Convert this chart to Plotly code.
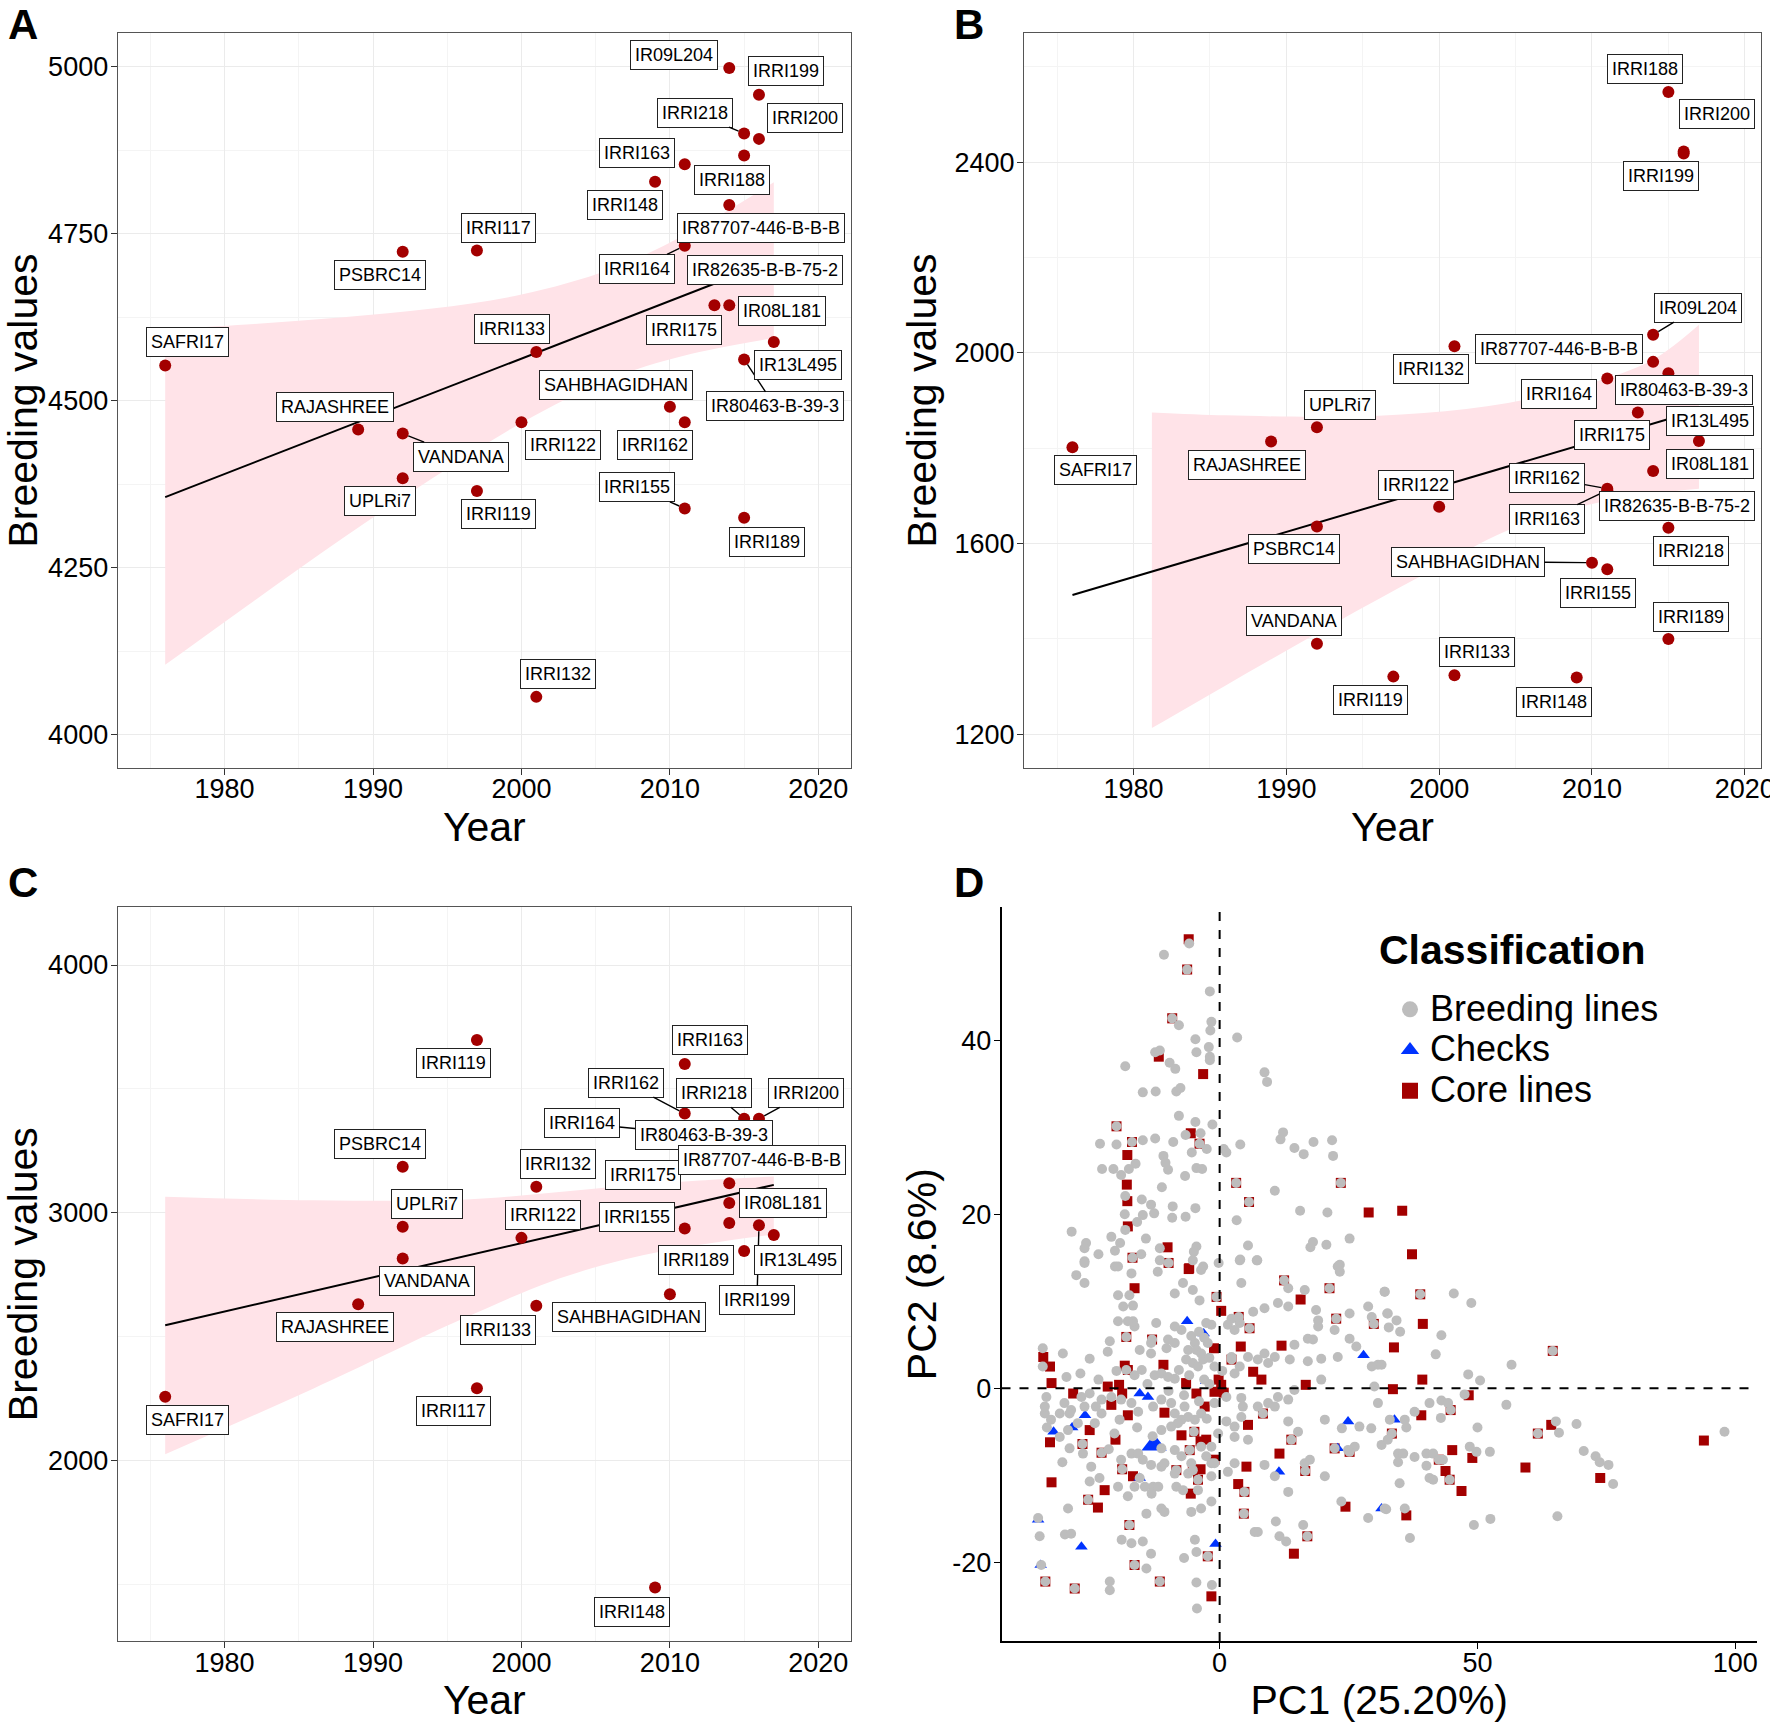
import plotly.graph_objects as go

FONT = "Liberation Sans, Arial, Helvetica, sans-serif"

# ---------------- data: panels A-C (breeding values vs release year) ----------------
varieties = ["SAFRI17", "RAJASHREE", "PSBRC14", "VANDANA", "UPLRi7", "IRRI117", "IRRI119",
             "IRRI122", "IRRI132", "IRRI133", "IRRI148", "SAHBHAGIDHAN", "IRRI155", "IRRI162",
             "IRRI163", "IRRI164", "IRRI175", "IR09L204", "IR87707-446-B-B-B", "IR08L181",
             "IRRI188", "IRRI189", "IRRI218", "IR80463-B-39-3", "IR82635-B-B-75-2",
             "IRRI199", "IRRI200", "IR13L495"]
release_year = [1976, 1989, 1992, 1992, 1992, 1997, 1997,
                2000, 2001, 2001, 2009, 2010, 2011, 2011,
                2011, 2011, 2013, 2014, 2014, 2014,
                2015, 2015, 2015, 2015, 2015,
                2016, 2016, 2017]
bv_A = [4553, 4457, 4723, 4451, 4384, 4725, 4365,
        4468, 4057, 4573, 4828, 4491, 4339, 4468,
        4854, 4732, 4643, 4998, 4793, 4643,
        4867, 4325, 4900, 4562, 4697,
        4958, 4892, 4588]
bv_B = [1802, 1814, 1636, 1390, 1844, None, 1321,
        1677, 2014, 1324, 1319, 1560, 1546, 1715,
        1712, 1946, 1875, 2038, 1981, 1752,
        2547, 1400, 1633, 1957, 1680,
        2418, 2422, 1815]
bv_C = [2256, 2630, 3185, 2815, 2943, 2291, 3697,
        2898, 3104, 2624, 1486, 2670, 2936, 3400,
        3600, 3320, 3210, 2958, 3119, 3039,
        None, 2845, 3379, 3310, None,
        2949, 3379, 2910]

fit_years = [1976, 2017]
fit_A = [4356, 4710]
fit_B = [1492, 1880]
fit_C = [2545, 3112]

band_years_A = [1976, 1982, 1988, 1994, 2000, 2006, 2011, 2017]
band_lo_A = [4105, 4201, 4295, 4384, 4467, 4533, 4568, 4594]
band_hi_A = [4607, 4615, 4625, 4638, 4659, 4697, 4748, 4827]
band_years_B = [1981.2, 1986, 1993, 1999, 2004.5, 2010, 2014, 2017]
band_lo_B = [1213, 1302, 1430, 1535, 1628, 1683, 1705, 1715]
band_hi_B = [1875, 1869, 1866, 1874, 1895, 1937, 1986, 2059]
band_years_C = [1976, 1986, 1996, 2002, 2007, 2012, 2017]
band_lo_C = [2024, 2290, 2570, 2722, 2812, 2870, 2912]
band_hi_C = [3064, 3050, 3052, 3080, 3108, 3130, 3146]

year_ticks = [1980, 1990, 2000, 2010, 2020]
pc1_ticks = [0, 50, 100]
pc2_ticks = [-20, 0, 20, 40]
pc2_tick_text = ["-20", "0", "20", "40"]

# ---------------- data: panel D (PCA) ----------------
breeding_pc1 = [
    -5.9, -10.8, -6.3, -1.9, -9.2, -7.9, -1.6, -1.8, 3.4, -4.7, -2.1, -4.5, -1.9, -12.5, -11.6, -1.9, -9.7, -8.6,
    -18.3, 8.7, 9.2, -14.9, -12.4, -8.4, -7.6, -7.9, -4.7, -1.4, -3.7, -6.6, -23.2, -20.0, -14.9, -12.5, -9.0, -5.4,
    -2.5, 0.8, 1.3, 4.0, 12.3, 11.8, 14.5, 16.3, 18.2, 21.8, 22.0, -10.9, -10.5, -16.3, -22.8, -20.6, -19.1, -17.6,
    -10.0, -4.5, -3.4, -6.7, -11.2, -18.3, -15.1, -13.3, -12.7, -9.1, -4.7, -9.2, -6.6, -18.4, -14.9, -16.0, 3.3,
    10.7, 15.6, 20.9, -28.7, -21.0, -18.3, -25.9, -26.2, -19.3, -14.3, -20.3, -23.5, -15.2, -11.6, -4.5, -5.0, 5.5,
    18.1, 20.7, 25.2, 17.6, -26.2, -20.3, -11.6, -5.2, -0.2, 4.0, 7.3, 23.3, -3.2,
    -20.0, -17.0, -3.9, 3.2, 5.7, 23.5, -16.9, -9.9,
    -26.2, -27.8, -26.2, -19.7, -17.1, -17.5, -16.8, -19.7, -18.7, -12.0, -7.1, -5.2, -8.7, -3.9, -3.6, 4.2, 7.2,
    3.9, 13.3, 16.5, 11.3, 13.3, 8.7, 6.5, 2.3, 3.9, 1.6, 2.9, 22.9, 23.3, 25.2, 28.8, 29.5, 32.5, 32.0, 18.7, 19.1,
    19.1, 17.1, 18.1, 22.3, 25.2, 26.5, 29.5, 30.7, 30.0, 22.9, 19.7, 19.7, 17.1, 14.5, 13.6, 10.7, 9.4, 8.7, 7.4,
    5.5, 3.9, 2.9, 2.3, 14.5, 11.3, 9.4, 13.3, 10.7, 7.4, 4.5, 4.2, 2.9, 1.3, 5.5, 2.9, 2.9, 1.6, 8.7, 10.7, 13.3,
    16.5, 17.5, 20.4, 15.2, 13.3, 20.4, 23.7, 27.1, 29.4, 30.7, 26.2, 31.4, 32.6, 24.9, 23.6, 28.8, 32.0, 16.2,
    10.9, 6.8, 7.4, 11.6, 12.9, -4.8, -4.5, -6.9, -14.2, -13.3, -14.9, -17.1, -19.0, -21.3, -21.3, -4.5, -1.5,
    -4.4, -29.4, -34.9, -30.0, -28.8, -35.2, -34.6, -33.8, -28.1, -16.5, -11.6, -2.3, -17.5, -14.2, -11.3, -10.7,
    -5.5, -3.6, -1.6, -4.2, -4.2, -8.4, -7.1, -8.7, -6.1, -11.3, -12.9, -14.5, -13.2, -11.9, -16.5, -17.8, -19.7,
    -23.3, -25.2, -24.9, -19.1, -17.1, -15.8, -20.4, -19.4, -22.9, -24.2, -26.5, -29.1, -31.0, -32.7, -33.9, -33.9,
    -33.6, -30.1, -31.0, -28.8, -26.2, -26.8, -25.2, -22.9, -24.0, -34.3, -34.3, -29.7, -27.0, -30.4, -25.2, -21.7,
    -21.3, -18.1, -16.5, -15.1, -12.6, -11.3, -10.0, -8.7, -7.9, -13.3, -10.3, -10.0, -8.7, -6.1, -4.8, -4.5, -3.6,
    -6.5, -5.2, -4.2, -3.2, -2.3, -1.6, -2.6, -7.4, -8.7, -13.3, -15.5, -16.5, -16.8, -12.3, -17.8, -19.7, -7.4,
    -6.8, -8.7, -6.1, -4.8, -3.6, -8.1, -9.4, -8.7, -7.4, -3.6, -2.6, -1.6, -5.5, -1.0, -10.7, -13.3, -14.9, -11.3,
    -11.3, -12.9, -15.8, -17.1, -19.1, -21.0, -11.3, -9.4, -27.5, -29.4, -29.1, -1.6, -1.6, -0.3, -1.0, 1.3, 4.2,
    -0.6, 3.7, 5.8, 22.6, 29.9, 12.5, 21.3, -18.1, -13.1, 2.3, 8.4, 13.9, 22.3, 25.2, -26.6, -22.9, -18.9, -8.4,
    -5.2, 4.8, -25.5, 16.6, 4.7, 17.0, -5.8, -15.5,
    -5.5, -4.0, -3.0, -2.0, -1.0, -5.9, -3.0, -2.0, 0.5, -6.9, -4.0, -2.5, -5.0, -9.9, -14.0, -20.0, -23.5, -16.0,
    -13.0, -21.5, -30.5, -33.5,
    32.0, 45.4, 48.8, 32.6, 34.3, 32.8, 35.0, 43.0, 41.9, 56.6, 48.2, 50.5, 47.5, 55.6, 40.7, 43.0, 44.3, 37.8,
    42.9, 50.0, 65.2, 65.8, 69.2, 97.9, 35.9, 36.2, 33.0, 34.6, 35.6, 37.8, 40.1, 41.4, 43.3, 48.5, 49.8, 52.4,
    34.6, 40.1, 70.6, 72.9, 73.7, 75.4, 76.3, 34.9, 40.7, 41.4, 32.3, 35.9, 49.3, 52.5, 65.5, 36.9, 31.4, 38.9,
    64.6, 61.7, 44.8, 33.4, 42.5, 44.6]
breeding_pc2 = [
    51.1, 49.8, 48.1, 45.6, 42.5, 41.7, 42.1, 41.1, 40.3, 40.1, 39.2, 38.6, 38.1, 38.6, 38.8, 37.7, 37.4, 36.7,
    37.0, 36.3, 35.2, 34.0, 34.1, 34.1, 34.5, 31.3, 30.6, 30.3, 29.3, 29.1, 28.1, 28.0, 28.5, 28.7, 28.3, 27.1,
    27.5, 27.5, 27.1, 28.0, 29.4, 28.6, 27.6, 26.9, 28.3, 28.5, 26.7, 26.7, 25.9, 25.8, 25.2, 25.2, 24.5, 25.2,
    25.1, 25.3, 25.2, 24.4, 23.1, 22.1, 21.7, 21.1, 20.1, 20.9, 20.7, 19.6, 19.7, 20.0, 19.9, 19.1, 19.3,
    22.7, 20.4, 20.2, 18.0, 17.4, 18.2, 16.7, 16.1, 16.7, 17.2, 15.8, 15.4, 15.4, 16.1, 16.3, 15.7, 16.4,
    16.8, 16.5, 17.2, 16.2, 14.6, 14.0, 14.7, 14.7, 14.4, 14.8, 14.7, 14.2, 14.0,
    30.1, 28.3, 28.1, 23.6, 21.4, 23.6, 15.0, 14.4,
    14.4, 13.0, 12.1, 14.0, 13.2, 10.7, 9.5, 10.7, 9.4, 13.4, 12.1, 11.3, 10.9, 10.1, 13.6, 12.1, 14.7,
    14.7, 11.5, 11.3, 9.8, 9.4, 9.2, 8.8, 8.0, 7.5, 7.3, 6.7, 14.0, 13.4, 8.6, 9.4, 8.2, 8.6, 11.1, 9.0, 7.8,
    7.1, 5.7, 5.6, 6.7, 5.7, 4.8, 2.5, 2.7, 0.2, 3.6, 3.4, 1.0, 3.1, 5.0, 3.3, 3.6, 2.9, 4.0, 3.3,
    3.6, 2.5, 1.7, 3.6, -0.2, -1.0, -1.7, -1.3, -2.1, -2.1, -2.1, -3.3, -4.4, -3.8, -5.9, -5.6, -8.6, -9.6, -8.8, -10.1, -11.9,
    -8.6, -8.2, -10.1, -5.0, -3.8, -3.6, -4.6, -4.4, -4.6, -1.7, -6.7, -6.5, -5.9, -7.1, -13.0, -14.9, -13.8, -15.7,
    -15.3, -16.5, -16.5, -17.0, -17.6, -17.4, -18.8, -19.5, -20.7, -19.0, -17.6, -17.8, -17.4, -22.2, -23.2, -22.3, -22.6,
    -25.3, -13.8, -17.0, -16.8, -16.7, -14.9, -20.3, -22.2, -23.0, -20.3, -22.2, -19.3, -15.7, -14.4, -13.8, -14.2,
    -14.2, -13.8, -13.0, -10.5, -11.7, -11.3, -11.7, -9.8, -9.8, -9.0, -11.3, -11.3, -12.1, -11.3, -11.3, -12.4, -11.3,
    -10.3, -10.7, -9.0, -8.2, -7.5, -7.5, -5.2, -3.6, -2.9, -4.0, -7.5, -6.9, -5.6, -3.6, -2.9, -2.1,
    -1.0, -1.7, -2.9, -2.5, -2.1, -1.0, -0.6, -1.3, -2.1, 2.5, 4.6, 1.3, 1.7, 4.0, 3.4, 4.2,
    5.4, 2.1, 1.5, 2.1, 1.5, 1.7, 1.3, 1.1, 2.1, 4.0, 4.6, 5.6, 5.2, 4.4, 5.2, 4.4, 4.0,
    3.3, 2.9, 2.5, 3.3, 5.2, 7.3, 7.5, 6.7, 7.1, 5.2, 4.4, 7.1, 7.7, 7.5, 7.7, 7.7, -3.6,
    -2.1, -2.9, -3.3, -3.6, -2.9, -4.0, -4.4, -7.1, -7.8, -6.7, -7.8, -8.6, -8.6, -8.6, -8.6, -8.8, -8.2, -6.9,
    -4.8, -2.1, -2.7, -1.7, -1.3, -1.0, -1.3, -1.7, -4.0, -4.8, -2.9, -10.1, -6.7, -5.2, -1.7, -1.0, -1.1,
    10.5, 8.2, 6.9, 8.0, 7.4, 12.4, 11.5, 5.9, 5.6, 3.3, -2.9, -5.9, -6.9, -7.3, -6.4, -7.4, -9.3, -9.4,
    -9.4, -11.9, -12.8, -9.5, -14.4, -17.0, -7.1, -10.3,
    6.0, 6.5, 5.8, 3.5, 2.5, 1.5, 1.0, 0.5, 2.0, -0.8, -1.5, -3.5, -5.0, -0.3, 0.5, 2.0, 1.0, -4.5,
    -5.5, -7.0, -8.5, -4.5,
    11.1, 10.9, 9.8, 8.6, 7.8, 7.0, 6.5, 6.1, 3.9, 2.7, 1.6, 0.9, -0.7, -1.9, -1.7, -1.4, -1.7, -2.7,
    -3.4, -4.5, -3.8, -5.1, -4.1, -5.0, -3.6, -4.5, -3.6, -7.5, -7.5, -7.9, -7.5, -7.5, -8.2, -6.7, -7.3, -7.3,
    -8.5, -8.9, -7.2, -7.8, -8.5, -8.8, -11.0, -10.9, -10.3, -10.5, -13.9, -13.8, -15.7, -15.0, -14.7, -17.2, 2.7, 10.8,
    4.3, -5.2, -2.5, -5.2, -8.2, -10.5]

core_pc1 = [
    -6.0, -11.8, -3.2, -17.9, -18.0, -17.9, -17.8, -5.6, -10.1, 28.9, -5.9,
    -6.3, -9.2, -20.0, -17.0, -3.9, 3.2, 5.7, 23.5, -16.9, -9.9,
    -6.0, -16.5, 0.3, 15.7, 4.1, -1.1, 12.0, -34.2, -32.9, -32.6, -28.4, -18.4, -17.8, -10.9, -19.5, -18.9,
    -21.7, -21.0, -17.8, -10.7, -4.5, -2.9, -6.5, 0.3, -1.0, -0.2, 0.8, 6.5, 8.1, 16.7, 5.5, -25.2, -20.2,
    -32.9, -7.4, -4.9, -3.7, -2.6, -1.0, 11.6, -3.7, 5.2, -32.6, -22.3, -16.8, -5.6, 3.6, -23.6, 24.4, 14.4, -1.6,
    -0.6, 3.7, 5.8, 22.6, 29.9, 12.5, 21.3, -18.1, -13.1, 2.3, 8.4, 13.9, 22.3, 25.2, -26.6, -22.9, -18.9,
    -8.4, -5.2, -4.2, 4.8, -25.5, 16.6, 4.7, 17.0, -17.5, -16.5, -11.6, -33.8, -28.1, -2.3, -5.8,
    35.4, 37.3, 38.9, 39.4, 33.8, 39.3, 33.6, 48.3, 39.1, 64.3, 93.9, 45.1, 49.0, 43.8, 59.3, 73.8, 46.9, 36.2,
    64.6, 61.7, 44.8, 33.4, 42.5, 44.6]
core_pc2 = [
    51.6, 38.1, 36.1, 26.8, 23.4, 21.5, 18.6, 29.3, 16.2, 20.2, 13.8,
    48.1, 42.5, 30.1, 28.3, 28.1, 23.6, 21.4, 23.6, 15.0, 14.4,
    13.7, 11.5, 8.9, 10.2, 4.8, 4.6, 4.9, 3.6, 2.5, 0.6, -0.6, 2.6, 2.1, 2.7, 0.4, -0.6,
    0.2, -1.9, -3.1, -2.8, -0.6, -2.1, 0.6, 0.4, -0.4, 1.0, -0.5, 1.9, 1.0, 0.4, -4.2, -4.8, -5.9,
    -6.2, -5.4, -5.0, -6.1, -5.9, -8.2, -7.5, -9.3, -9.0, -10.8, -11.7, -10.1, -12.1, -11.0, -13.7, -13.6, -19.0, -23.9,
    10.5, 8.2, 6.9, 8.0, 7.4, 12.4, 11.5, 5.9, 5.6, 3.3, -2.9, -5.9, -6.9, -7.3, -6.4, -7.4, -9.3,
    -9.4, -9.4, -10.5, -11.9, -12.8, -9.5, -14.4, -17.0, -15.7, -20.3, -22.2, -22.2, -23.0, -19.3, -7.1,
    20.4, 15.4, 10.8, 7.4, 4.7, 1.0, -0.1, -0.8, -3.1, -4.2, -6.0, -7.1, -8.0, -9.5, -9.1, -10.3, -11.8, -14.6,
    4.3, -5.2, -2.5, -5.2, -8.2, -10.5]

check_pc1 = [-6.3, -3.1, 27.9, -15.5, -13.9, -26.1, -28.6, -32.2, 11.5, -26.8, -0.8, -2.6,
             -35.2, -34.7, -15.5, 24.9, 22.9, 31.4, 33.9]
check_pc2 = [7.7, 6.3, 3.8, -0.6, -1.0, -3.1, -4.5, -5.0, -9.6, -18.2, -17.9, 0.8,
             -15.1, -20.3, -10.3, -3.8, -6.9, -13.8, -3.6]
highlight_check_pc1 = [-12.7]
highlight_check_pc2 = [-6.5]

legend_title = "Classification"
classes = ["Breeding lines", "Checks", "Core lines"]

# ---------------- label placement (pixel offsets of label from point, segment drawn?) ----------------
labels_A = {
    "SAFRI17": (22, -23, False), "RAJASHREE": (-23, -23, False), "PSBRC14": (-23, 23, False),
    "VANDANA": (58, 23, True), "UPLRi7": (-23, 23, False), "IRRI117": (22, -22, False),
    "IRRI119": (22, 23, False), "IRRI122": (42, 23, False), "IRRI132": (22, -23, False),
    "IRRI133": (-24, -23, False), "IRRI148": (-30, 23, False), "SAHBHAGIDHAN": (-54, -22, False),
    "IRRI155": (-48, -21, True), "IRRI162": (-30, 23, False), "IRRI163": (-48, -11, False),
    "IRRI164": (-48, 23, True), "IRRI175": (-30, 25, False), "IR09L204": (-55, -13, False),
    "IR87707-446-B-B-B": (32, 23, False), "IR08L181": (53, 6, False), "IRRI188": (-12, 24, False),
    "IRRI189": (23, 24, False), "IRRI218": (-49, -21, True), "IR80463-B-39-3": (31, 47, True),
    "IR82635-B-B-75-2": (21, 1, False), "IRRI199": (27, -24, False), "IRRI200": (46, -21, False),
    "IR13L495": (24, 23, False)}
labels_B = {
    "SAFRI17": (23, 23, False), "RAJASHREE": (-24, 23, False), "PSBRC14": (-23, 23, False),
    "VANDANA": (-23, -23, False), "UPLRi7": (23, -22, False), "IRRI119": (-23, 23, False),
    "IRRI122": (-23, -22, False), "IRRI132": (-23, 23, False), "IRRI133": (23, -23, False),
    "IRRI148": (-23, 24, False), "SAHBHAGIDHAN": (-124, -1, True), "IRRI155": (-9, 24, False),
    "IRRI162": (-60, -11, True), "IRRI163": (-60, 29, True), "IRRI164": (-48, 15, False),
    "IRRI175": (-26, 23, False), "IR09L204": (45, -27, True), "IR87707-446-B-B-B": (-94, -13, False),
    "IR08L181": (57, -7, False), "IRRI188": (-23, -23, False), "IRRI189": (23, -22, False),
    "IRRI218": (23, 23, False), "IR80463-B-39-3": (16, 17, False), "IR82635-B-B-75-2": (9, 1, False),
    "IRRI199": (-23, 23, False), "IRRI200": (33, -38, False), "IR13L495": (11, -20, False)}
labels_C = {
    "SAFRI17": (22, 23, False), "RAJASHREE": (-23, 23, False), "PSBRC14": (-23, -23, False),
    "VANDANA": (24, 23, False), "UPLRi7": (24, -23, False), "IRRI117": (-23, 23, False),
    "IRRI119": (-23, 23, False), "IRRI122": (22, -23, False), "IRRI132": (22, -23, False),
    "IRRI133": (-38, 24, False), "IRRI148": (-23, 24, False), "SAHBHAGIDHAN": (-41, 23, False),
    "IRRI155": (-48, -11, False), "IRRI162": (-59, -31, True), "IRRI163": (25, -24, False),
    "IRRI164": (-103, -10, True), "IR80463-B-39-3": (-40, -1, False), "IRRI175": (-71, 14, True),
    "IR87707-446-B-B-B": (33, -23, False), "IR08L181": (54, 0, False), "IRRI189": (-48, 9, False),
    "IRRI218": (-30, -26, True), "IRRI199": (-2, 75, True), "IRRI200": (47, -26, True),
    "IR13L495": (24, 25, False)}

# ---------------- styling ----------------
POINT_RED = "#A30000"
BAND_PINK = "#FFE3E8"
GREY_PT = "#BDBDBD"
BLUE_PT = "#0033FF"

W, H = 1770, 1723
dom_x_left = [117.7 / W, 851 / W]
dom_x_B = [1024 / W, 1761 / W]
dom_x_D = [1001.5 / W, 1757 / W]
dom_y_top = [1 - 767.7 / H, 1 - 33.3 / H]
dom_y_bot = [1 - 1641 / H, 1 - 907.3 / H]

fig = go.Figure()


def add_trend_panel(xa, ya, values, band_years, band_lo, band_hi, fit):
    fig.add_trace(go.Scatter(x=band_years, y=band_lo, mode="lines", line=dict(width=0, shape="spline"),
                             xaxis=xa, yaxis=ya, showlegend=False, hoverinfo="skip"))
    fig.add_trace(go.Scatter(x=band_years, y=band_hi, mode="lines", line=dict(width=0, shape="spline"),
                             fill="tonexty", fillcolor=BAND_PINK, xaxis=xa, yaxis=ya,
                             showlegend=False, hoverinfo="skip"))
    fig.add_trace(go.Scatter(x=fit_years, y=fit, mode="lines", line=dict(color="black", width=2),
                             xaxis=xa, yaxis=ya, showlegend=False, hoverinfo="skip"))
    xs = [yr for yr, v in zip(release_year, values) if v is not None]
    ys = [v for v in values if v is not None]
    fig.add_trace(go.Scatter(x=xs, y=ys, mode="markers", marker=dict(color=POINT_RED, size=12),
                             xaxis=xa, yaxis=ya, showlegend=False))


add_trend_panel("x", "y", bv_A, band_years_A, band_lo_A, band_hi_A, fit_A)
add_trend_panel("x2", "y2", bv_B, band_years_B, band_lo_B, band_hi_B, fit_B)
add_trend_panel("x3", "y3", bv_C, band_years_C, band_lo_C, band_hi_C, fit_C)

# panel D (core + checks underneath, breeding lines drawn on top as in the original)
fig.add_trace(go.Scatter(x=core_pc1, y=core_pc2, mode="markers", xaxis="x4", yaxis="y4",
                         marker=dict(symbol="square", color=POINT_RED, size=10),
                         legendgroup="core", showlegend=False))
fig.add_trace(go.Scatter(x=check_pc1, y=check_pc2, mode="markers", xaxis="x4", yaxis="y4",
                         marker=dict(symbol="triangle-up", color=BLUE_PT, size=11),
                         legendgroup="checks", showlegend=False))
fig.add_trace(go.Scatter(x=highlight_check_pc1, y=highlight_check_pc2, mode="markers", xaxis="x4", yaxis="y4",
                         marker=dict(symbol="triangle-up", color=BLUE_PT, size=22),
                         legendgroup="checks", showlegend=False))
fig.add_trace(go.Scatter(x=breeding_pc1, y=breeding_pc2, mode="markers", xaxis="x4", yaxis="y4",
                         marker=dict(symbol="circle", color=GREY_PT, size=10),
                         legendgroup="breeding", showlegend=False))
# legend entries (legend font sets the row pitch; the label itself is enlarged via span style)
for name, sym, col, grp, rank in [(classes[0], "circle", GREY_PT, "breeding", 1),
                                  (classes[1], "triangle-up", BLUE_PT, "checks", 2),
                                  (classes[2], "square", POINT_RED, "core", 3)]:
    fig.add_trace(go.Scatter(x=[None], y=[None], mode="markers", xaxis="x4", yaxis="y4",
                             name='<span style="font-size:36px">%s</span>' % name,
                             marker=dict(symbol=sym, color=col, size=18), legendgroup=grp,
                             legendrank=rank, showlegend=True))

# zero reference lines in D
fig.add_shape(type="line", xref="x4", yref="y4 domain", x0=0, x1=0, y0=0, y1=1,
              line=dict(color="black", width=2, dash="dash"))
fig.add_shape(type="line", xref="x4 domain", yref="y4", x0=0, x1=1, y0=0, y1=0,
              line=dict(color="black", width=2, dash="dash"))

# labels
annotations = []


def add_labels(xref, yref, values, offsets):
    for name, (dx, dy, seg) in offsets.items():
        i = varieties.index(name)
        v = values[i]
        if v is None:
            continue
        annotations.append(dict(
            x=release_year[i], y=v, xref=xref, yref=yref, text=name, showarrow=True,
            ax=dx, ay=dy, arrowhead=0, arrowwidth=1.4,
            arrowcolor="black" if seg else "rgba(0,0,0,0)", standoff=6 if seg else 0,
            font=dict(size=18, color="black", family=FONT), bgcolor="white",
            bordercolor="#222222", borderwidth=1, borderpad=4))


add_labels("x", "y", bv_A, labels_A)
add_labels("x2", "y2", bv_B, labels_B)
add_labels("x3", "y3", bv_C, labels_C)

for letter, px, py in [("A", 23, 0), ("B", 969, 0), ("C", 23, 858), ("D", 969, 858)]:
    annotations.append(dict(text="<b>%s</b>" % letter, x=px / W, y=1 - py / H, xref="paper", yref="paper",
                            showarrow=False, xanchor="center", yanchor="top", borderpad=0,
                            font=dict(size=42, color="black", family=FONT)))

# legend heading
annotations.append(dict(text="<b>%s</b>" % legend_title, x=1377 / W, y=1 - 950 / H, xref="paper",
                        yref="paper", showarrow=False, xanchor="left", yanchor="middle",
                        font=dict(size=41, color="black", family=FONT)))

tick_font = dict(size=27, color="black", family=FONT)
title_font = dict(size=41, color="black", family=FONT)


def trend_xaxis(domain, rng, anchor):
    return dict(domain=domain, range=rng, anchor=anchor, tickvals=year_ticks, showgrid=True,
                gridcolor="#EBEBEB", gridwidth=1.4, zeroline=False, showline=True, mirror=True,
                linecolor="#555555", linewidth=1.2, ticks="outside", ticklen=6, tickcolor="#333333",
                tickfont=tick_font, automargin=False, ticklabelstandoff=-9, ticklabeloverflow="allow",
                title=dict(text="Year", font=title_font, standoff=2),
                minor=dict(dtick=5, tick0=1975, showgrid=True, gridcolor="#F4F4F4", gridwidth=0.8))


def trend_yaxis(domain, rng, anchor, tick0, dtick):
    return dict(domain=domain, range=rng, anchor=anchor, tick0=tick0, dtick=dtick, showgrid=True,
                gridcolor="#EBEBEB", gridwidth=1.4, zeroline=False, showline=True, mirror=True,
                linecolor="#555555", linewidth=1.2, ticks="outside", ticklen=6, tickcolor="#333333",
                tickfont=tick_font, automargin=False, ticklabelstandoff=-3,
                title=dict(text="Breeding values", font=title_font, standoff=5),
                minor=dict(dtick=dtick / 2, tick0=tick0, showgrid=True, gridcolor="#F4F4F4", gridwidth=0.8))


fig.update_layout(
    width=W, height=H, margin=dict(l=0, r=0, t=0, b=0, autoexpand=False),
    paper_bgcolor="white", plot_bgcolor="white", font=dict(family=FONT, color="black"),
    xaxis=trend_xaxis(dom_x_left, [1972.8, 2022.2], "y"),
    yaxis=trend_yaxis(dom_y_top, [3951, 5050], "x", 4000, 250),
    xaxis2=trend_xaxis(dom_x_B, [1972.83, 2021.06], "y2"),
    yaxis2=trend_yaxis(dom_y_top, [1130, 2670], "x2", 1200, 400),
    xaxis3=trend_xaxis(dom_x_left, [1972.8, 2022.2], "y3"),
    yaxis3=trend_yaxis(dom_y_bot, [1270, 4233], "x3", 2000, 1000),
    xaxis4=dict(domain=dom_x_D, range=[-42.3, 104.2], anchor="y4", tickvals=pc1_ticks, showgrid=False,
                zeroline=False, showline=True, linecolor="black", linewidth=1.8, ticks="outside",
                ticklen=6, tickcolor="black", tickfont=tick_font, automargin=False, ticklabelstandoff=-9,
                title=dict(text="PC1 (25.20%)", font=title_font, standoff=2)),
    yaxis4=dict(domain=dom_y_bot, range=[-29.03, 55.26], anchor="x4", tickvals=pc2_ticks,
                ticktext=pc2_tick_text, showgrid=False,
                zeroline=False, showline=True, linecolor="black", linewidth=1.8, ticks="outside",
                ticklen=6, tickcolor="black", tickfont=tick_font, automargin=False, ticklabelstandoff=-3,
                title=dict(text="PC2 (8.6%)", font=title_font, standoff=3)),
    legend=dict(x=1390 / W, y=1 - 984 / H, xanchor="left", yanchor="top", bgcolor="rgba(0,0,0,0)",
                font=dict(size=29, color="black", family=FONT), itemsizing="trace", tracegroupgap=0),
    annotations=annotations,
)

fig.write_html("out.html", config={"displayModeBar": False},
               post_script="document.body.style.margin='0';document.body.style.overflow='hidden';")
